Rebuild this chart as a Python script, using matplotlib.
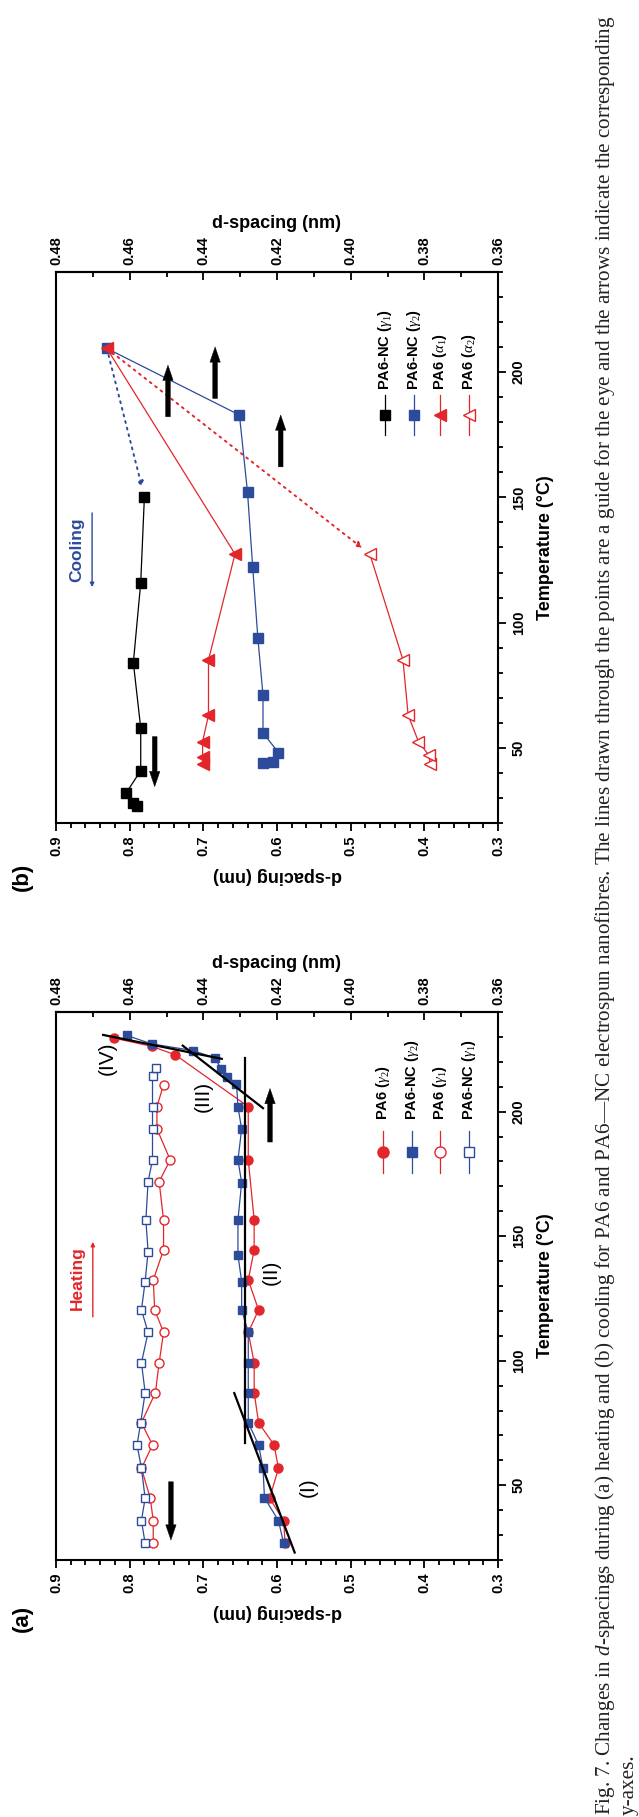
import matplotlib
matplotlib.use('Agg')
import matplotlib.pyplot as plt
from matplotlib.ticker import MultipleLocator, FixedLocator, FormatStrFormatter

plt.rcParams['font.family'] = ['Liberation Sans', 'DejaVu Sans']
plt.rcParams['font.weight'] = 'bold'
plt.rcParams['mathtext.fontset'] = 'custom'
plt.rcParams['mathtext.rm'] = 'Liberation Serif:style=normal:weight=normal'
plt.rcParams['mathtext.it'] = 'Liberation Serif:style=italic:weight=normal'
plt.rcParams['mathtext.bf'] = 'Liberation Serif:style=normal:weight=bold'

RED = '#e3262b'
BLUE = '#2d4b9b'

# ---------------- (a) heating ----------------
a_T_pa6_g2 = [26.7, 35.8, 44.8, 56.8, 66.2, 75.1, 87.2, 99.2, 111.4, 120.4, 132.4, 144.5, 156.5, 180.6, 202.0, 222.8, 226.2, 229.5]
a_d_pa6_g2 = [0.589, 0.591, 0.610, 0.598, 0.604, 0.625, 0.631, 0.631, 0.639, 0.625, 0.639, 0.631, 0.631, 0.639, 0.639, 0.738, 0.770, 0.821]

a_T_nc_g2 = [26.7, 35.8, 45.0, 56.8, 66.2, 75.1, 87.2, 99.2, 111.4, 120.4, 131.8, 142.5, 156.5, 171.5, 180.6, 193.0, 202.0, 211.2, 214.1, 217.2, 221.5, 224.5, 227.2, 230.6]
a_d_nc_g2 = [0.591, 0.598, 0.617, 0.619, 0.625, 0.639, 0.639, 0.639, 0.639, 0.648, 0.648, 0.653, 0.653, 0.648, 0.653, 0.648, 0.653, 0.655, 0.668, 0.676, 0.684, 0.714, 0.770, 0.804]

a_T_pa6_g1 = [26.7, 35.8, 44.8, 56.8, 66.2, 75.1, 87.2, 99.2, 111.4, 120.4, 132.4, 144.5, 156.5, 171.9, 180.6, 193.1, 202.0, 210.8]
a_d_pa6_g1 = [0.768, 0.768, 0.772, 0.784, 0.769, 0.784, 0.765, 0.760, 0.754, 0.766, 0.768, 0.754, 0.754, 0.760, 0.745, 0.763, 0.763, 0.754]

a_T_nc_g1 = [26.7, 35.8, 44.8, 56.8, 66.2, 75.1, 87.2, 99.2, 111.4, 120.4, 131.8, 143.8, 156.5, 171.9, 180.6, 193.1, 202.0, 214.5, 217.5]
a_d_nc_g1 = [0.779, 0.784, 0.779, 0.784, 0.790, 0.785, 0.779, 0.784, 0.775, 0.784, 0.779, 0.775, 0.778, 0.775, 0.769, 0.769, 0.769, 0.769, 0.764]

# guide lines (I)-(IV): d pairs, T pairs
fit_d = [[0.658, 0.576], [0.643, 0.643], [0.728, 0.619], [0.836, 0.675]]
fit_T = [[87, 23], [67, 221.5], [226.5, 201.4], [230.8, 221.2]]
stage_labels = ['(I)', '(II)', '(III)', '(IV)']
stage_d = [0.558, 0.608, 0.700, 0.831]
stage_T = [49.4, 135.3, 206, 221.5]

# axis arrows: d position, tail T, head T
a_arrows = [(0.6095, 187.8, 209.3), (0.744, 51.4, 28.0)]

# ---------------- (b) cooling ----------------
b_T_nc_g1 = [26.9, 27.9, 31.9, 40.9, 58.0, 84.0, 115.9, 150.3]
b_d_nc_g1 = [0.790, 0.795, 0.805, 0.785, 0.785, 0.795, 0.785, 0.780]

b_T_nc_g2 = [43.8, 44.5, 48.1, 56.0, 71.0, 94.0, 122.2, 152.0, 182.9, 209.5]
b_d_nc_g2 = [0.619, 0.605, 0.598, 0.619, 0.619, 0.626, 0.633, 0.640, 0.651, 0.831]

b_T_pa6_a1 = [43.6, 46.5, 52.5, 63.1, 85.1, 127.4, 209.5]
b_d_pa6_a1 = [0.701, 0.701, 0.701, 0.693, 0.693, 0.657, 0.831]

b_T_pa6_a2 = [43.6, 47.1, 52.5, 63.1, 85.1, 127.4]
b_d_pa6_a2 = [0.392, 0.394, 0.408, 0.422, 0.429, 0.474]

b_arrows = [(0.748, 182.2, 202.8), (0.684, 189.5, 210.1), (0.595, 162.2, 182.9), (0.766, 54.5, 34.5)]

right_ticks = [0.36, 0.38, 0.40, 0.42, 0.44, 0.46, 0.48]
right_minor = [0.37, 0.39, 0.41, 0.43, 0.45, 0.47]

caption1 = ('Fig. 7. Changes in $d$-spacings during (a) heating and (b) cooling for PA6 and PA6\u2014NC '
            'electrospun nanofibres. The lines drawn through the points are a guide for the eye and the '
            'arrows indicate the corresponding')
caption2 = 'y-axes.'


def setup(ax):
    ax.set_xlim(0.9, 0.3)
    ax.set_ylim(20, 240)
    for s in ax.spines.values():
        s.set_linewidth(1.5)
    ax.xaxis.set_major_locator(MultipleLocator(0.1))
    ax.xaxis.set_minor_locator(MultipleLocator(0.02))
    ax.xaxis.set_major_formatter(FormatStrFormatter('%.1f'))
    ax.tick_params(axis='x', which='both', direction='out', width=1.3, labelrotation=90, labelsize=10.5, pad=3)
    ax.tick_params(axis='x', which='major', length=6)
    ax.tick_params(axis='x', which='minor', length=3.5)
    ax.yaxis.tick_right()
    ax.yaxis.set_label_position('right')
    ax.yaxis.set_major_locator(MultipleLocator(50))
    ax.yaxis.set_minor_locator(MultipleLocator(10))
    ax.tick_params(axis='y', which='both', direction='out', width=1.3, labelrotation=90, labelsize=10.5, pad=4)
    ax.tick_params(axis='y', which='major', length=6)
    ax.tick_params(axis='y', which='minor', length=3.5)
    plt.setp(ax.get_yticklabels(), va='center')
    ax.set_xlabel('d-spacing (nm)', rotation=180, fontsize=13, fontweight='bold', labelpad=8)
    ax.set_ylabel('Temperature (\u00b0C)', fontsize=13, fontweight='bold', labelpad=8)
    sec = ax.secondary_xaxis('top', functions=(lambda d: 0.3 + 0.2 * d, lambda r: (r - 0.3) / 0.2))
    sec.xaxis.set_major_locator(FixedLocator(right_ticks))
    sec.xaxis.set_minor_locator(FixedLocator(right_minor))
    sec.xaxis.set_major_formatter(FormatStrFormatter('%.2f'))
    sec.tick_params(which='both', direction='in', width=1.3, labelrotation=90, labelsize=10.5, pad=5)
    sec.tick_params(which='major', length=6)
    sec.tick_params(which='minor', length=3.5)
    sec.spines['top'].set_linewidth(1.5)
    sec.set_xlabel('d-spacing (nm)', fontsize=13, fontweight='bold', labelpad=6)


def series(ax, d, T, color, marker, ms, filled, z=3):
    ax.plot(d, T, color=color, lw=0.9, marker=marker, ms=ms,
            mfc=color if filled else 'white', mec=color, mew=1.0, zorder=z)


def legend_entry(ax, xf, yf, dy, ytext, color, marker, ms, filled, label):
    ax.plot([xf, xf], [yf - dy, yf + dy], color=color, lw=0.9, transform=ax.transAxes, zorder=4)
    ax.plot([xf], [yf], color=color, marker=marker, ms=ms, mfc=color if filled else 'white',
            mec=color, mew=1.0, ls='none', transform=ax.transAxes, zorder=5)
    ax.text(xf, ytext, label, rotation=90, ha='center', va='bottom', fontsize=10.5,
            transform=ax.transAxes)


def big_arrow(ax, x, t0, t1):
    ax.annotate('', xy=(x, t1), xytext=(x, t0),
                arrowprops=dict(arrowstyle='simple,head_length=1.1,head_width=0.75,tail_width=0.34',
                                mutation_scale=10, fc='k', ec='k', lw=0.3, shrinkA=0, shrinkB=0),
                zorder=6)


fig = plt.figure(figsize=(6.39, 18.17), dpi=100)
axb = fig.add_axes([56 / 639, 1 - 823 / 1817, 442 / 639, 551 / 1817])
axa = fig.add_axes([56 / 639, 1 - 1560 / 1817, 442 / 639, 548 / 1817])

# ----- panel (a)
setup(axa)
series(axa, a_d_pa6_g2, a_T_pa6_g2, RED, 'o', 6.5, True)
series(axa, a_d_nc_g2, a_T_nc_g2, BLUE, 's', 6, True)
series(axa, a_d_pa6_g1, a_T_pa6_g1, RED, 'o', 6.5, False)
series(axa, a_d_nc_g1, a_T_nc_g1, BLUE, 's', 6, False)
for fd, ft in zip(fit_d, fit_T):
    axa.plot(fd, ft, color='k', lw=1.6, zorder=5)
for lab, sd, st in zip(stage_labels, stage_d, stage_T):
    axa.text(sd, st, lab, rotation=90, ha='center', va='center', fontsize=15, fontweight='normal', zorder=6)
for x, t0, t1 in a_arrows:
    big_arrow(axa, x, t0, t1)
axa.text(0.8715, 133, 'Heating', color=RED, rotation=90, ha='center', va='center', fontsize=12.5)
axa.annotate('', xy=(0.850, 147.7), xytext=(0.850, 117.6),
             arrowprops=dict(arrowstyle='-|>', color=RED, lw=1.0, mutation_scale=6, shrinkA=0, shrinkB=0))
legend_entry(axa, 0.740, 0.745, 0.038, 0.803, RED, 'o', 8, True, 'PA6 ($\\gamma_2$)')
legend_entry(axa, 0.805, 0.745, 0.038, 0.803, BLUE, 's', 7.5, True, 'PA6-NC ($\\gamma_2$)')
legend_entry(axa, 0.869, 0.745, 0.038, 0.803, RED, 'o', 8, False, 'PA6 ($\\gamma_1$)')
legend_entry(axa, 0.934, 0.745, 0.038, 0.803, BLUE, 's', 7.5, False, 'PA6-NC ($\\gamma_1$)')

# ----- panel (b)
setup(axb)
series(axb, b_d_nc_g1, b_T_nc_g1, 'k', 's', 6.5, True)
series(axb, b_d_nc_g2, b_T_nc_g2, BLUE, 's', 6.5, True)
series(axb, b_d_pa6_a2, b_T_pa6_a2, RED, '<', 8, False)
series(axb, b_d_pa6_a1, b_T_pa6_a1, RED, '<', 8.5, True, z=4)
# dotted guides from the melt point to the first crystallised point
axb.annotate('', xy=(b_d_nc_g1[-1], b_T_nc_g1[-1]), xytext=(b_d_nc_g2[-1], b_T_nc_g2[-1]),
             arrowprops=dict(arrowstyle='-|>', color=BLUE, lw=1.4, ls=(0, (1, 2.5)), capstyle='round',
                             mutation_scale=8, shrinkA=5, shrinkB=7))
axb.annotate('', xy=(b_d_pa6_a2[-1], b_T_pa6_a2[-1]), xytext=(b_d_pa6_a1[-1], b_T_pa6_a1[-1]),
             arrowprops=dict(arrowstyle='-|>', color=RED, lw=1.4, ls=(0, (1, 2.5)), capstyle='round',
                             mutation_scale=8, shrinkA=5, shrinkB=7))
for x, t0, t1 in b_arrows:
    big_arrow(axb, x, t0, t1)
axb.text(0.8715, 129, 'Cooling', color=BLUE, rotation=90, ha='center', va='center', fontsize=12.5)
axb.annotate('', xy=(0.851, 114.2), xytext=(0.851, 143.8),
             arrowprops=dict(arrowstyle='-|>', color=BLUE, lw=1.0, mutation_scale=6, shrinkA=0, shrinkB=0))
legend_entry(axb, 0.744, 0.740, 0.036, 0.786, 'k', 's', 7.5, True, 'PA6-NC ($\\gamma_1$)')
legend_entry(axb, 0.810, 0.740, 0.036, 0.786, BLUE, 's', 7.5, True, 'PA6-NC ($\\gamma_2$)')
legend_entry(axb, 0.869, 0.740, 0.036, 0.786, RED, '<', 9, True, 'PA6 ($\\alpha_1$)')
legend_entry(axb, 0.934, 0.740, 0.036, 0.786, RED, '<', 9, False, 'PA6 ($\\alpha_2$)')

fig.text(22 / 639, 1 - 1618 / 1817, '(a)', rotation=90, ha='center', va='center', fontsize=16)
fig.text(22 / 639, 1 - 877 / 1817, '(b)', rotation=90, ha='center', va='center', fontsize=16)

fig.text(0.947, 0.001, caption1, rotation=90, ha='center', va='bottom', fontsize=15.2,
         fontweight='normal', family=['Liberation Serif', 'DejaVu Serif'], color='#222222')
fig.text(0.984, 0.001, caption2, rotation=90, ha='center', va='bottom', fontsize=15.2,
         fontweight='normal', family=['Liberation Serif', 'DejaVu Serif'], color='#222222')

fig.savefig('out.png', dpi=100)
